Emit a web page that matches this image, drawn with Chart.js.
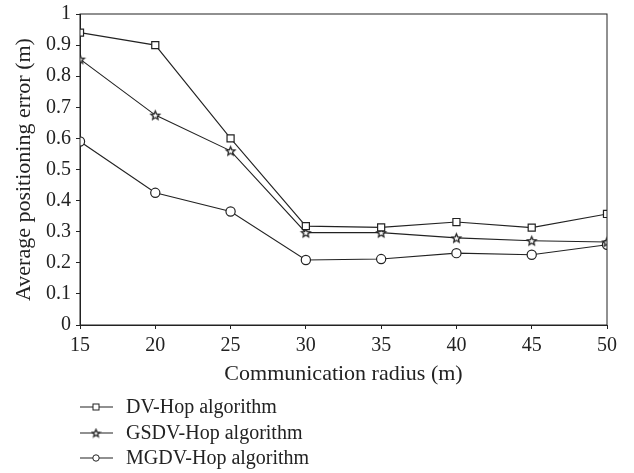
<!DOCTYPE html>
<html>
<head>
<meta charset="utf-8">
<script src="https://cdn.jsdelivr.net/npm/chart.js@4"></script>
<style>
  html, body { margin: 0; padding: 0; background: #fff; }
  #wrap { width: 634px; height: 473px; }
</style>
</head>
<body>
<div id="wrap"><canvas id="chart" width="634" height="473"></canvas></div>
<script>
// data
const radius = [15, 20, 25, 30, 35, 40, 45, 50];
const dvHop = [0.94, 0.90, 0.60, 0.318, 0.314, 0.331, 0.313, 0.357];
const gsdvHop = [0.855, 0.675, 0.56, 0.297, 0.297, 0.28, 0.271, 0.267];
const mgdvHop = [0.59, 0.425, 0.365, 0.209, 0.212, 0.231, 0.226, 0.258];
const seriesNames = ['DV-Hop algorithm', 'GSDV-Hop algorithm', 'MGDV-Hop algorithm'];
const yTicks = [0, 0.1, 0.2, 0.3, 0.4, 0.5, 0.6, 0.7, 0.8, 0.9, 1];

const ink = '#222';
const serif = '"Liberation Serif", "DejaVu Serif", serif';

// outlined five point star used as a point marker
function makeStar(r) {
  const c = document.createElement('canvas');
  const s = Math.ceil(r * 2 + 3);
  c.width = s; c.height = s;
  const g = c.getContext('2d');
  g.beginPath();
  for (let i = 0; i < 10; i++) {
    const rad = i % 2 === 0 ? r : r * 0.45;
    const a = -Math.PI / 2 + i * Math.PI / 5;
    const x = s / 2 + rad * Math.cos(a), y = s / 2 + 0.5 + rad * Math.sin(a);
    i === 0 ? g.moveTo(x, y) : g.lineTo(x, y);
  }
  g.closePath();
  g.fillStyle = '#fff';
  g.fill();
  g.strokeStyle = ink;
  g.lineWidth = 1.3;
  g.stroke();
  return c;
}
const starBig = makeStar(4.6);
const starSmall = makeStar(4);

function points(ys) {
  return radius.map((x, i) => ({ x: x, y: ys[i] }));
}

const common = {
  borderColor: ink,
  borderWidth: 1.1,
  backgroundColor: '#fff',
  pointBorderColor: ink,
  pointBackgroundColor: '#fff',
  pointBorderWidth: 1.2,
  tension: 0
};

// box round the plot plus a stacked legend under it
const extras = {
  id: 'extras',
  afterDraw(chart) {
    const { ctx, chartArea: a } = chart;
    ctx.save();
    ctx.strokeStyle = ink;
    ctx.lineWidth = 1;
    ctx.strokeRect(a.left, a.top, a.right - a.left, a.bottom - a.top);

    ctx.font = '20px ' + serif;
    ctx.textBaseline = 'middle';
    ctx.fillStyle = ink;
    const rows = [407, 433, 458];
    chart.data.datasets.forEach((ds, i) => {
      const y = rows[i];
      ctx.beginPath();
      ctx.moveTo(80, y);
      ctx.lineTo(113, y);
      ctx.lineWidth = 1.1;
      ctx.stroke();
      ctx.lineWidth = 1;
      ctx.fillStyle = '#fff';
      if (i === 0) {
        ctx.fillRect(93, y - 3, 6, 6);
        ctx.strokeRect(93, y - 3, 6, 6);
      } else if (i === 1) {
        ctx.drawImage(starSmall, 96 - starSmall.width / 2, y - starSmall.height / 2);
      } else {
        ctx.beginPath();
        ctx.arc(96, y, 3.2, 0, Math.PI * 2);
        ctx.fill();
        ctx.stroke();
      }
      ctx.fillStyle = ink;
      ctx.fillText(ds.label, 126, y + 1);
    });
    ctx.restore();
  }
};

new Chart(document.getElementById('chart'), {
  type: 'line',
  data: {
    datasets: [
      Object.assign({ label: seriesNames[0], data: points(dvHop), pointStyle: 'rect', pointRadius: 5 }, common),
      Object.assign({ label: seriesNames[1], data: points(gsdvHop), pointStyle: starBig, pointRadius: 5 }, common),
      Object.assign({ label: seriesNames[2], data: points(mgdvHop), pointStyle: 'circle', pointRadius: 4.6 }, common)
    ]
  },
  options: {
    responsive: false,
    animation: false,
    layout: { padding: { top: 14, right: 27, bottom: 86, left: 0 } },
    plugins: {
      legend: { display: false },
      tooltip: { enabled: false }
    },
    scales: {
      x: {
        type: 'linear',
        min: 15, max: 50,
        afterFit(axis) { axis.height = 62; axis.paddingLeft = 0; axis.paddingRight = 0; },
        border: { color: ink, width: 1 },
        grid: { drawOnChartArea: false, color: ink, tickLength: 4 },
        ticks: { stepSize: 5, color: ink, font: { family: serif, size: 20 }, padding: 5 },
        title: { display: true, text: 'Communication radius (m)', color: ink, font: { family: serif, size: 22 }, padding: { top: 0, bottom: 0 } }
      },
      y: {
        min: 0, max: 1,
        afterBuildTicks(axis) { axis.ticks = yTicks.map(v => ({ value: v })); },
        afterFit(axis) { axis.width = 80; axis.paddingTop = 0; axis.paddingBottom = 0; },
        border: { color: ink, width: 1 },
        grid: { drawOnChartArea: false, color: ink, tickLength: 4 },
        ticks: { color: ink, font: { family: serif, size: 20 }, padding: 5, callback: v => String(v) },
        title: { display: true, text: 'Average positioning error (m)', color: ink, font: { family: serif, size: 22 }, padding: { top: 11, bottom: 0 } }
      }
    }
  },
  plugins: [extras]
});
</script>
</body>
</html>
